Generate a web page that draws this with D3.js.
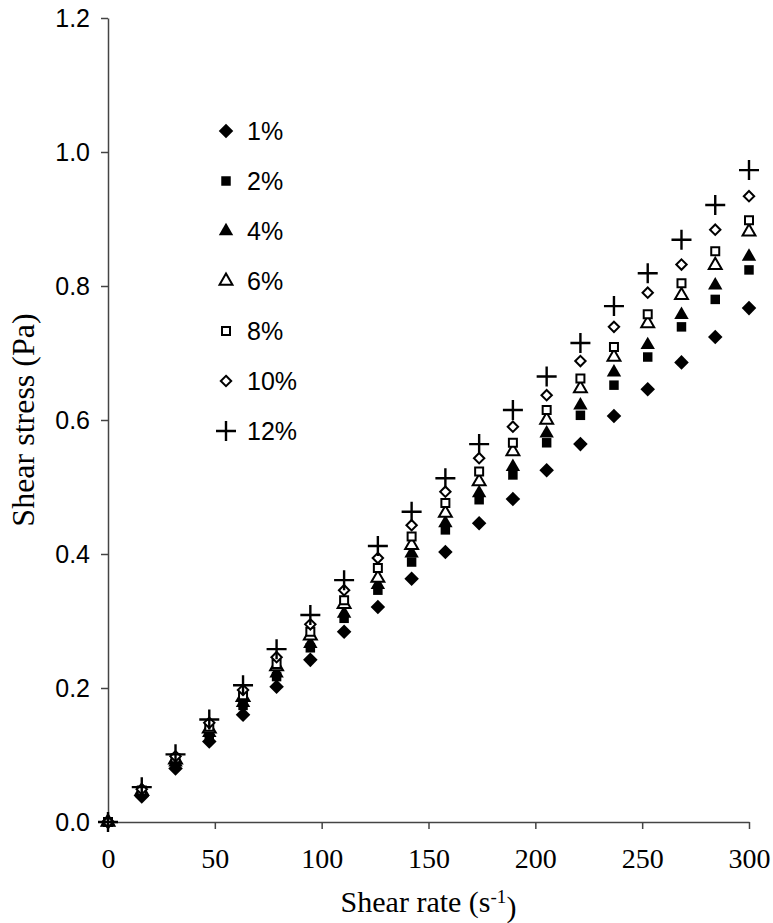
<!DOCTYPE html>
<html>
<head>
<meta charset="utf-8">
<script src="https://cdn.jsdelivr.net/npm/d3@7"></script>
<style>
  body { margin: 0; background: #fff; }
  svg { display: block; }
</style>
</head>
<body>
<div id="chart"></div>
<script>
// shear rate values (s-1), shared by every series
var shearRate = [0, 15.8, 31.6, 47.4, 63.2, 78.9, 94.7, 110.5, 126.3, 142.1,
    157.9, 173.7, 189.5, 205.3, 221.1, 236.8, 252.6, 268.4, 284.2, 300];

// shear stress (Pa) for each concentration
var conc1 = [0, 0.038, 0.080, 0.120, 0.160, 0.202, 0.242, 0.284, 0.321, 0.363,
    0.403, 0.446, 0.482, 0.525, 0.564, 0.606, 0.646, 0.686, 0.724, 0.767];
var conc2 = [0, 0.043, 0.087, 0.130, 0.174, 0.217, 0.260, 0.304, 0.346, 0.388,
    0.436, 0.481, 0.518, 0.566, 0.607, 0.652, 0.694, 0.739, 0.780, 0.824];
var conc4 = [0, 0.044, 0.089, 0.133, 0.178, 0.222, 0.266, 0.311, 0.354, 0.401,
    0.446, 0.491, 0.530, 0.580, 0.622, 0.671, 0.712, 0.757, 0.801, 0.844];
var conc6 = [0, 0.046, 0.093, 0.139, 0.186, 0.232, 0.278, 0.325, 0.364, 0.413,
    0.461, 0.508, 0.553, 0.600, 0.647, 0.694, 0.744, 0.786, 0.831, 0.881];
var conc8 = [0, 0.047, 0.095, 0.142, 0.189, 0.236, 0.284, 0.331, 0.379, 0.426,
    0.476, 0.523, 0.566, 0.615, 0.662, 0.709, 0.758, 0.804, 0.852, 0.898];
var conc10 = [0, 0.049, 0.098, 0.148, 0.197, 0.246, 0.295, 0.346, 0.394, 0.443,
    0.493, 0.543, 0.590, 0.637, 0.688, 0.739, 0.790, 0.832, 0.884, 0.934];
var conc12 = [0, 0.052, 0.101, 0.153, 0.204, 0.258, 0.309, 0.361, 0.412, 0.463,
    0.513, 0.564, 0.615, 0.665, 0.715, 0.770, 0.819, 0.869, 0.921, 0.973];

var seriesNames = ["1%", "2%", "4%", "6%", "8%", "10%", "12%"];
var seriesValues = [conc1, conc2, conc4, conc6, conc8, conc10, conc12];

var xTicks = [0, 50, 100, 150, 200, 250, 300];
var yTicks = [0, 0.2, 0.4, 0.6, 0.8, 1.0, 1.2];

// chart size and plot box
var width = 773, height = 923;
var margin = { top: 18, right: 24, bottom: 101, left: 108 };

var svg = d3.select("#chart")
    .append("svg")
    .attr("width", width)
    .attr("height", height);

var x = d3.scaleLinear()
    .domain([0, 300])
    .range([margin.left, width - margin.right]);

var y = d3.scaleLinear()
    .domain([0, 1.2])
    .range([height - margin.bottom, margin.top]);

// marker shapes, Excel style
var diamondShape = {
    draw: function(ctx, size) {
        var r = Math.sqrt(size) / 2 * 1.3;
        ctx.moveTo(0, -r); ctx.lineTo(r, 0); ctx.lineTo(0, r); ctx.lineTo(-r, 0); ctx.closePath();
    }
};
var plusShape = {
    draw: function(ctx, size) {
        var r = Math.sqrt(size) / 2;
        ctx.moveTo(-r, 0); ctx.lineTo(r, 0);
        ctx.moveTo(0, -r); ctx.lineTo(0, r);
    }
};

var markers = [
    { type: diamondShape, size: 125, fill: "#000", stroke: "none", sw: 0 },
    { type: d3.symbolSquare, size: 90, fill: "#000", stroke: "none", sw: 0 },
    { type: d3.symbolTriangle, size: 90, fill: "#000", stroke: "none", sw: 0 },
    { type: d3.symbolTriangle, size: 72, fill: "#fff", stroke: "#000", sw: 2 },
    { type: d3.symbolSquare, size: 64, fill: "#fff", stroke: "#000", sw: 2 },
    { type: diamondShape, size: 64, fill: "#fff", stroke: "#000", sw: 2 },
    { type: plusShape, size: 400, fill: "none", stroke: "#000", sw: 2.4 }
];

// axes
var axisColor = "#444";

var xAxis = svg.append("g")
    .attr("transform", `translate(0, ${y(0)})`)
    .call(d3.axisBottom(x).tickValues(xTicks).tickSize(7).tickSizeOuter(0).tickPadding(19));

xAxis.selectAll("text")
    .style("font-family", "'Liberation Serif', 'Times New Roman', serif")
    .style("font-size", "28px")
    .attr("fill", "#000");

var yAxis = svg.append("g")
    .attr("transform", `translate(${x(0)}, 0)`)
    .call(d3.axisLeft(y).tickValues(yTicks).tickFormat(d3.format(".1f"))
        .tickSize(7).tickSizeOuter(0).tickPadding(11));

yAxis.selectAll("text")
    .style("font-family", "'Liberation Sans', Arial, sans-serif")
    .style("font-size", "25px")
    .attr("fill", "#000");

svg.selectAll(".domain, .tick line")
    .attr("stroke", axisColor)
    .attr("stroke-width", 1.5);

// points, one group per series so later series sit on top
seriesValues.forEach(function(vals, i) {
    var m = markers[i];
    var sym = d3.symbol().type(m.type).size(m.size);
    svg.append("g")
        .selectAll("path")
        .data(vals)
        .enter()
        .append("path")
        .attr("d", sym)
        .attr("transform", (d, j) => `translate(${x(shearRate[j])}, ${y(d)})`)
        .attr("fill", m.fill)
        .attr("stroke", m.stroke)
        .attr("stroke-width", m.sw);
});

// legend
var legend = svg.append("g")
    .attr("transform", "translate(226, 131)");

var legendRows = legend.selectAll("g")
    .data(seriesNames)
    .enter()
    .append("g")
    .attr("transform", (d, i) => `translate(0, ${i * 50})`);

legendRows.append("path")
    .attr("d", (d, i) => d3.symbol().type(markers[i].type).size(markers[i].size)())
    .attr("fill", (d, i) => markers[i].fill)
    .attr("stroke", (d, i) => markers[i].stroke)
    .attr("stroke-width", (d, i) => markers[i].sw);

legendRows.append("text")
    .attr("x", 21)
    .attr("dy", "0.36em")
    .style("font-family", "'Liberation Sans', Arial, sans-serif")
    .style("font-size", "25px")
    .text(d => d);

// axis titles
var xTitle = svg.append("text")
    .attr("x", (x(0) + x(300)) / 2)
    .attr("y", 912)
    .attr("text-anchor", "middle")
    .style("font-family", "'Liberation Serif', 'Times New Roman', serif")
    .style("font-size", "30px");
xTitle.append("tspan").text("Shear rate (s");
xTitle.append("tspan").attr("dy", "-0.45em").style("font-size", "19px").text("-1");
xTitle.append("tspan").attr("dy", "0.45em").text(")");

svg.append("text")
    .attr("transform", `translate(34, ${(y(0) + y(1.2)) / 2}) rotate(-90)`)
    .attr("text-anchor", "middle")
    .style("font-family", "'Liberation Serif', 'Times New Roman', serif")
    .style("font-size", "32px")
    .text("Shear stress (Pa)");
</script>
</body>
</html>
